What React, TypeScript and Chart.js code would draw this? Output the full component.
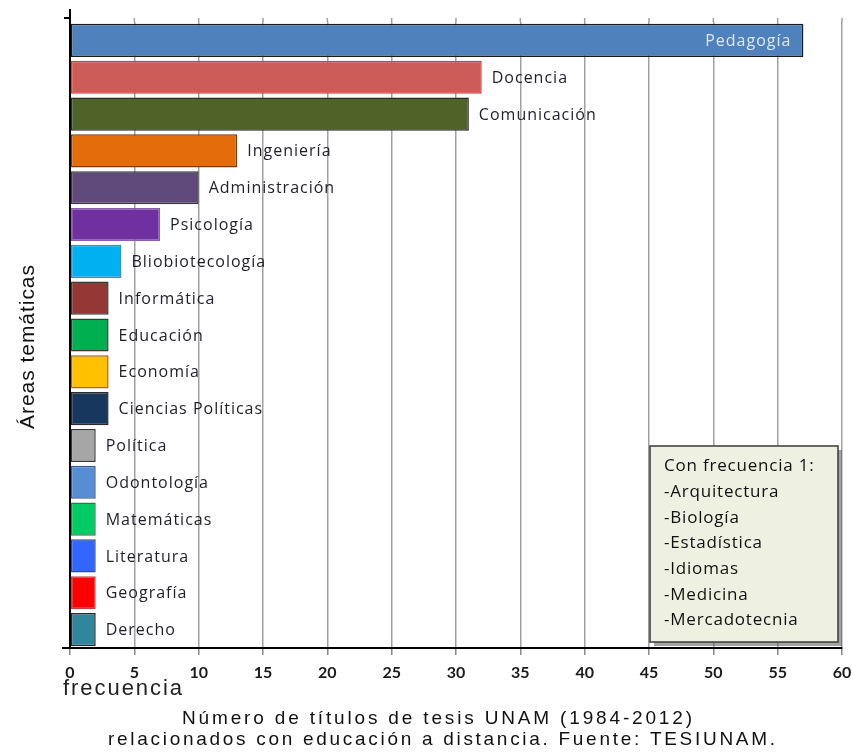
import React, { useEffect, useRef } from "react";
import { Chart, registerables } from "chart.js";
Chart.register(...registerables);

const categories = [
  "Pedagogía", "Docencia", "Comunicación", "Ingeniería", "Administración", "Psicología",
  "Bliobiotecología", "Informática", "Educación", "Economía", "Ciencias Políticas", "Política",
  "Odontología", "Matemáticas", "Literatura", "Geografía", "Derecho",
];
const values = [57, 32, 31, 13, 10, 7, 4, 3, 3, 3, 3, 2, 2, 2, 2, 2, 2];
const barColors = [
  "#4f81bd", "#cd5b58", "#4f6228", "#e46c0a", "#604a7b", "#7030a0",
  "#00b0f0", "#953735", "#00b050", "#ffc000", "#17375e", "#a6a6a6",
  "#558ed5", "#00cc66", "#3366ff", "#ff0000", "#31859c",
];
const borderColors = [
  "#1a1a1a", "#e0373f", "#2a2a2a", "#7a3a10", "#3a3a3a", "#8a5fb0",
  "#3a8fb8", "#3a3a3a", "#3a3a3a", "#9a6a20", "#2a2a2a", "#3a3a3a",
  "#3a5a90", "#2a7a4a", "#2a4a9a", "#c04040", "#2a2a2a",
];
const xMin = 0;
const xMax = 60;
const xStep = 5;
const noteTitle = "Con frecuencia 1:";
const noteItems = ["-Arquitectura", "-Biología", "-Estadística", "-Idiomas", "-Medicina", "-Mercadotecnia"];
const yTitle = "Áreas temáticas";
const xTitle = "frecuencia";
const captionLines = [
  "Número de títulos de tesis UNAM (1984-2012)",
  "relacionados con educación a distancia. Fuente: TESIUNAM.",
];

function fitText(ctx: CanvasRenderingContext2D, text: string, left: number, y: number, target: number) {
  (ctx as any).letterSpacing = "0px";
  const w = ctx.measureText(text).width;
  const ls = (target - w) / Math.max(1, text.length - 1);
  (ctx as any).letterSpacing = ls + "px";
  ctx.textAlign = "left";
  ctx.fillText(text, left, y);
  (ctx as any).letterSpacing = "0px";
}

const decorPlugin = {
  id: "decor",
  beforeDatasetsDraw(chart: any) {
    const ctx: CanvasRenderingContext2D = chart.ctx;
    const area = chart.chartArea;
    const xs = chart.scales.x;
    ctx.save();
    ctx.strokeStyle = "#a0a0a0";
    ctx.lineWidth = 1.5;
    ctx.beginPath();
    xs.ticks.forEach((t: any) => {
      const px = xs.getPixelForValue(t.value);
      if (px > area.left + 1) {
        ctx.moveTo(px, 18);
        ctx.lineTo(px, area.top);
      }
    });
    ctx.stroke();
    ctx.restore();
  },
  afterDatasetsDraw(chart: any) {
    const ctx: CanvasRenderingContext2D = chart.ctx;
    const meta = chart.getDatasetMeta(0);
    ctx.save();
    ctx.font = '16px "Open Sans"';
    (ctx as any).letterSpacing = "1px";
    ctx.textBaseline = "middle";
    meta.data.forEach((bar: any, i: number) => {
      if (i === 0) {
        ctx.fillStyle = "#dce6f2";
        ctx.textAlign = "right";
        ctx.fillText(categories[i], bar.x - 12, bar.y + 1);
      } else {
        ctx.fillStyle = "#1f1f2a";
        ctx.textAlign = "left";
        ctx.fillText(categories[i], bar.x + 10, bar.y + 1);
      }
    });
    (ctx as any).letterSpacing = "0px";
    ctx.restore();
  },
  afterDraw(chart: any) {
    const ctx: CanvasRenderingContext2D = chart.ctx;
    const area = chart.chartArea;
    ctx.save();
    // axis extensions
    ctx.strokeStyle = "#000";
    ctx.lineWidth = 2;
    ctx.beginPath();
    ctx.moveTo(area.left, area.top);
    ctx.lineTo(area.left, 9);
    ctx.moveTo(area.left - 6, 18);
    ctx.lineTo(area.left, 18);
    ctx.moveTo(area.left - 8, area.bottom);
    ctx.lineTo(area.left, area.bottom);
    ctx.stroke();

    // y title
    ctx.fillStyle = "#111";
    ctx.font = '21px "Liberation Sans", Arial, sans-serif';
    ctx.textBaseline = "middle";
    ctx.save();
    ctx.translate(28, 347);
    ctx.rotate(-Math.PI / 2);
    fitText(ctx, yTitle, -82, 0, 164);
    ctx.restore();

    // x title
    ctx.fillStyle = "#222";
    ctx.font = '22px "Liberation Sans", Arial, sans-serif';
    fitText(ctx, xTitle, 63, 689, 119);

    // caption
    ctx.font = '19px "Liberation Sans", Arial, sans-serif';
    ctx.fillStyle = "#111";
    fitText(ctx, captionLines[0], 182, 719, 510);
    fitText(ctx, captionLines[1], 108, 740, 667);

    // note box
    const bx = 650, by = 446, bw = 188, bh = 196;
    ctx.fillStyle = "rgba(90,90,90,0.55)";
    ctx.fillRect(bx + 4, by + 4, bw, bh);
    ctx.fillStyle = "#eef0e2";
    ctx.fillRect(bx, by, bw, bh);
    ctx.strokeStyle = "#3a3a3a";
    ctx.lineWidth = 1.5;
    ctx.strokeRect(bx, by, bw, bh);
    ctx.fillStyle = "#111";
    ctx.font = '17px "Open Sans"';
    (ctx as any).letterSpacing = "0.8px";
    ctx.textAlign = "left";
    ctx.textBaseline = "middle";
    ctx.fillText(noteTitle, 664, 466);
    noteItems.forEach((t, i) => {
      ctx.fillText(t, 664, 492 + i * 25.7);
    });
    (ctx as any).letterSpacing = "0px";
    ctx.restore();
  },
};

export default function App() {
  const ref = useRef<HTMLCanvasElement>(null);
  useEffect(() => {
    if (!ref.current) return;
    const chart = new Chart(ref.current, {
      type: "bar",
      data: {
        labels: categories,
        datasets: [
          {
            data: values,
            backgroundColor: barColors,
            borderColor: borderColors,
            borderWidth: 1.5,
            borderSkipped: false,
            barPercentage: 0.9,
            categoryPercentage: 1,
          },
        ],
      },
      options: {
        indexAxis: "y",
        animation: false,
        responsive: false,
        maintainAspectRatio: false,
        layout: { padding: { left: 70, right: 10, top: 22, bottom: 75 } },
        plugins: { legend: { display: false }, tooltip: { enabled: false }, title: { display: false } },
        scales: {
          x: {
            type: "linear",
            min: xMin,
            max: xMax,
            ticks: {
              stepSize: xStep,
              color: "#1a1a1a",
              font: { family: "Lato", size: 16, weight: "bold" },
              padding: 8,
            },
            grid: { color: "#a0a0a0", lineWidth: 1.5, tickLength: 7, tickColor: "#888" },
            border: { display: true, color: "#000", width: 2 },
            afterFit: (s: any) => { s.height = 30; s.paddingLeft = 0; s.paddingRight = 0; },
          },
          y: {
            ticks: { display: false },
            grid: { display: true, color: "rgba(0,0,0,0)", drawTicks: false },
            border: { display: true, color: "#000", width: 2 },
            afterFit: (s: any) => { s.width = 0; s.paddingTop = 0; s.paddingBottom = 0; },
          },
        },
      },
      plugins: [decorPlugin],
    } as any);
    return () => chart.destroy();
  }, []);
  return (
    <div style={{ position: "absolute", left: 0, top: 0, width: 852, height: 753, background: "#fff" }}>
      <canvas ref={ref} width={852} height={753} style={{ width: 852, height: 753 }} />
    </div>
  );
}
